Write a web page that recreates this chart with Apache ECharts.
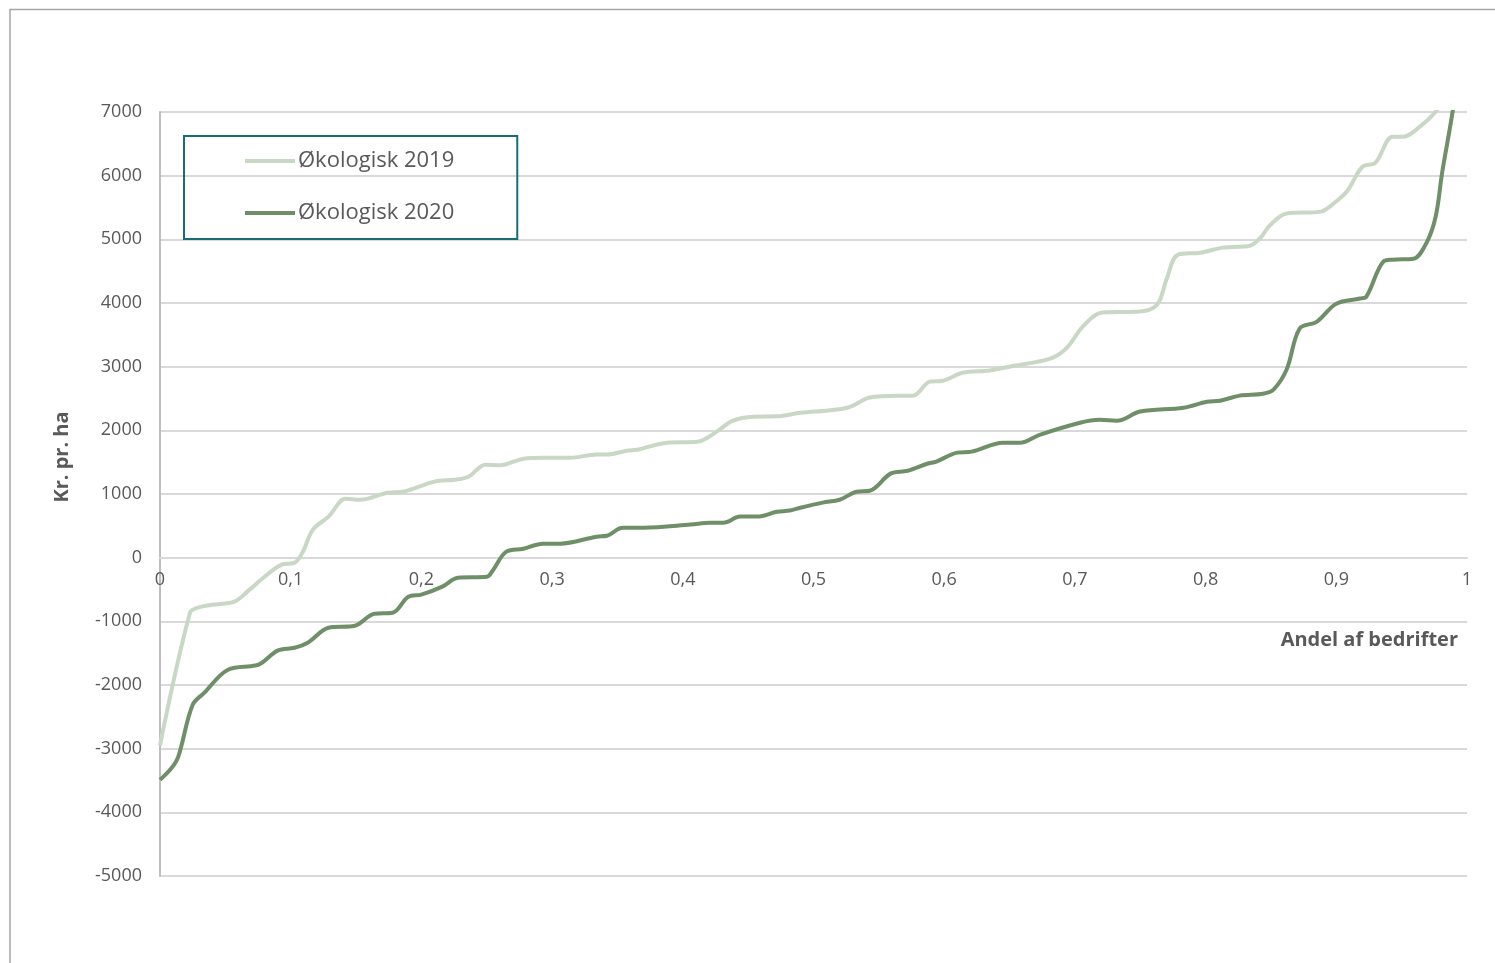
<!DOCTYPE html>
<html>
<head>
<meta charset="utf-8">
<script src="https://cdn.jsdelivr.net/npm/echarts@6/dist/echarts.min.js"></script>
<style>
html,body{margin:0;padding:0;background:#fff;}
#chart{width:1495px;height:963px;}
</style>
</head>
<body>
<div id="chart"></div>
<script>
/* andel af bedrifter (0-1) */
var x2019 = [0, 0.023, 0.029, 0.040, 0.057, 0.067, 0.080, 0.093, 0.103, 0.109, 0.117, 0.129, 0.142, 0.153, 0.174, 0.187, 0.210, 0.226, 0.236, 0.249,
	0.260, 0.278, 0.293, 0.314, 0.334, 0.342, 0.357, 0.365, 0.388, 0.411, 0.426, 0.438, 0.454, 0.472, 0.490, 0.515, 0.528, 0.543, 0.564, 0.576,
	0.589, 0.599, 0.614, 0.635, 0.650, 0.681, 0.694, 0.706, 0.721, 0.750, 0.763, 0.770, 0.779, 0.796, 0.813, 0.834, 0.842, 0.849, 0.862, 0.888,
	0.895, 0.908, 0.920, 0.930, 0.943, 0.951, 0.964, 0.976, 0.982];
/* kr. pr. ha */
var y2019 = [-2950, -860, -785, -740, -690, -530, -300, -110, -80, 80, 440, 645, 925, 910, 1020, 1040, 1195, 1225, 1270, 1460,
	1450, 1555, 1570, 1570, 1620, 1620, 1680, 1695, 1805, 1820, 1980, 2150, 2215, 2220, 2275, 2320, 2370, 2515, 2545, 2545,
	2765, 2780, 2905, 2940, 3000, 3125, 3300, 3630, 3850, 3865, 3975, 4365, 4760, 4790, 4870, 4900, 5025, 5215, 5405, 5435,
	5515, 5750, 6140, 6205, 6610, 6610, 6770, 7005, 7200];

var x2020 = [0, 0.009, 0.014, 0.025, 0.034, 0.052, 0.073, 0.078, 0.090, 0.103, 0.113, 0.129, 0.149, 0.164, 0.178, 0.190, 0.200, 0.216, 0.228, 0.250,
	0.255, 0.265, 0.278, 0.293, 0.306, 0.334, 0.342, 0.354, 0.370, 0.406, 0.421, 0.431, 0.444, 0.457, 0.472, 0.482, 0.490, 0.507, 0.520, 0.533,
	0.543, 0.559, 0.572, 0.587, 0.594, 0.610, 0.621, 0.645, 0.658, 0.673, 0.704, 0.719, 0.732, 0.750, 0.783, 0.801, 0.811, 0.826, 0.844, 0.852,
	0.862, 0.872, 0.885, 0.900, 0.918, 0.923, 0.936, 0.943, 0.959, 0.969, 0.976, 0.981, 0.989, 0.992];
var y2020 = [-3490, -3300, -3125, -2310, -2120, -1760, -1695, -1650, -1460, -1415, -1335, -1100, -1070, -880, -865, -615, -580, -455, -315, -300,
	-190, 95, 140, 220, 220, 330, 345, 470, 470, 520, 550, 550, 645, 645, 720, 740, 785, 865, 910, 1035,
	1050, 1320, 1365, 1475, 1510, 1650, 1665, 1805, 1805, 1930, 2120, 2165, 2150, 2295, 2355, 2450, 2465, 2545, 2575, 2640,
	2955, 3600, 3705, 3990, 4070, 4100, 4650, 4680, 4695, 4945, 5355, 6050, 7005, 7500];

var seriesNames = ['Økologisk 2019', 'Økologisk 2020'];
var yTicks = {min: -5000, max: 7000, step: 1000};
var xTicks = {min: 0, max: 1, step: 0.1};

function pairs(xs, ys){
	var out = [];
	for (var i = 0; i < xs.length; i++) out.push([xs[i], ys[i]]);
	return out;
}

var txtColor = '#595959';
var fontName = '"Open Sans", Lato, sans-serif';
var gridTop = 112, gridBottom = 87, chartH = 963;
// x-aksen krydser ved 0: flyt den op fra bunden
var plotH = chartH - gridTop - gridBottom;
var zeroOffset = -plotH * (0 - yTicks.min) / (yTicks.max - yTicks.min);

var mychart = echarts.init(document.getElementById('chart'));
var option = {
	backgroundColor: '#fff',
	animation: false,
	grid: {left: 160, right: 28, top: gridTop, bottom: gridBottom},
	legend: {
		left: 184,
		top: 136,
		orient: 'vertical',
		padding: [12, 63, 13, 61],
		itemGap: 26,
		itemWidth: 50,
		itemHeight: 4,
		icon: 'rect',
		borderColor: '#176d76',
		borderWidth: 2,
		data: seriesNames,
		textStyle: {
			color: txtColor,
			fontSize: 22,
			lineHeight: 26,
			fontFamily: fontName,
			padding: [0, 0, 0, -2]
		}
	},
	xAxis: {
		type: 'value',
		min: xTicks.min,
		max: xTicks.max,
		interval: xTicks.step,
		offset: zeroOffset,
		axisLine: {show: true, onZero: false, lineStyle: {color: '#d9d9d9', width: 2}},
		axisTick: {show: false},
		splitLine: {show: false},
		axisLabel: {
			color: txtColor,
			fontSize: 18,
			fontFamily: fontName,
			margin: 13,
			formatter: function(v){ return String(Math.round(v * 10) / 10).replace('.', ','); }
		}
	},
	yAxis: {
		type: 'value',
		min: yTicks.min,
		max: yTicks.max,
		interval: yTicks.step,
		axisLine: {show: true, lineStyle: {color: '#bfbfbf', width: 2}},
		axisTick: {show: false},
		splitLine: {show: true, lineStyle: {color: '#d9d9d9', width: 2}},
		axisLabel: {
			color: txtColor,
			fontSize: 18,
			fontFamily: fontName,
			margin: 18,
			formatter: function(v){ return String(v); }
		}
	},
	series: [{
		name: seriesNames[0],
		type: 'line',
		data: pairs(x2019, y2019),
		symbol: 'none',
		smooth: 0.35,
		clip: true,
		lineStyle: {color: '#c9d7c5', width: 4},
		itemStyle: {color: '#c9d7c5'},
		z: 3
	}, {
		name: seriesNames[1],
		type: 'line',
		data: pairs(x2020, y2020),
		symbol: 'none',
		smooth: 0.35,
		clip: true,
		lineStyle: {color: '#6f8f69', width: 4},
		itemStyle: {color: '#6f8f69'},
		z: 4
	}],
	graphic: [{
		type: 'rect',
		silent: true,
		shape: {x: 10, y: 9.5, width: 1520, height: 1000},
		style: {fill: 'none', stroke: '#a6a6a6', lineWidth: 1.5},
		z: -1
	}, {
		type: 'text',
		x: 1458,
		y: 640,
		style: {
			text: 'Andel af bedrifter',
			fill: txtColor,
			font: 'bold 20px ' + fontName,
			textAlign: 'right',
			textVerticalAlign: 'middle'
		}
	}, {
		type: 'text',
		x: 62,
		y: 457,
		rotation: Math.PI / 2,
		style: {
			text: 'Kr. pr. ha',
			fill: txtColor,
			font: 'bold 20px ' + fontName,
			textAlign: 'center',
			textVerticalAlign: 'middle'
		}
	}]
};
mychart.setOption(option);
</script>
</body>
</html>
